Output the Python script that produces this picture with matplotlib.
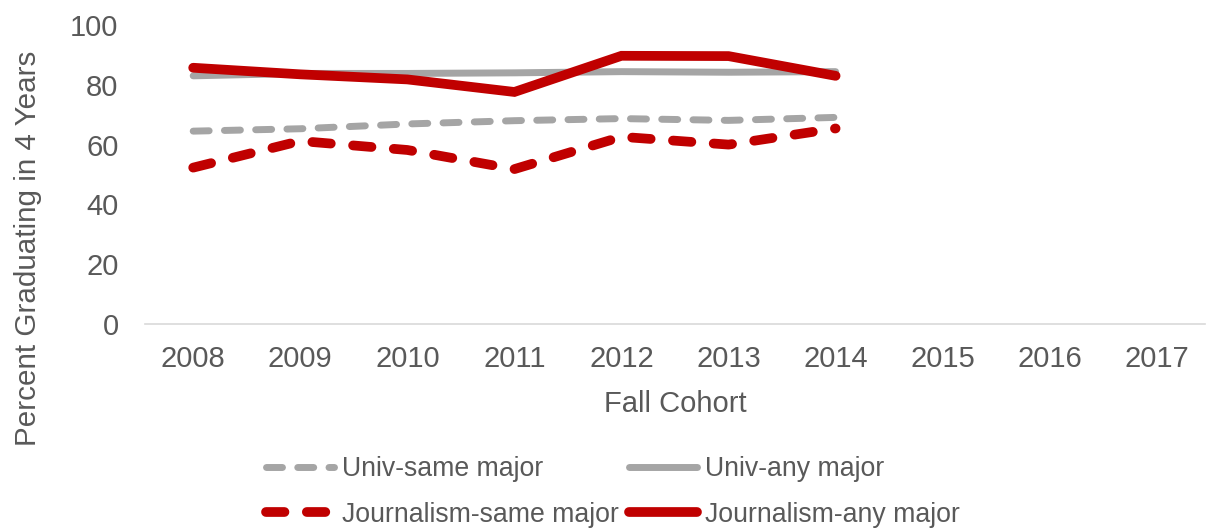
import matplotlib
matplotlib.use("Agg")
import matplotlib.pyplot as plt
import numpy as np

plt.rcParams['font.family'] = ['Liberation Sans', 'DejaVu Sans']

# Data
years = ['2008', '2009', '2010', '2011', '2012', '2013', '2014', '2015', '2016', '2017']
univ_same = [64.5, 65.3, 66.9, 68.0, 68.7, 68.1, 69.1]
univ_any = [83.0, 83.8, 83.8, 84.0, 84.4, 84.2, 84.4]
journ_same = [52.3, 61.2, 58.2, 51.8, 62.6, 60.0, 65.4]
journ_any = [85.7, 83.5, 81.8, 77.6, 89.7, 89.6, 83.0]

red = '#C00000'
gray = '#A5A5A5'
txt = '#595959'

fig = plt.figure(figsize=(12.07, 5.29), dpi=100)
ax = fig.add_axes([145/1207, 1 - 324/529, 1060/1207, 299/529])

x = np.arange(len(years))
n = len(univ_same)

l1, = ax.plot(x[:n], univ_same, color=gray, lw=5.0, ls=(0, (2.3, 2.2)),
              dash_capstyle='round', label='Univ-same major')
l2, = ax.plot(x[:n], univ_any, color=gray, lw=5.0, solid_capstyle='round',
              label='Univ-any major')
l3, = ax.plot(x[:n], journ_same, color=red, lw=7.0, ls=(0, (1.9, 2.3)),
              dash_capstyle='round', label='Journalism-same major')
l4, = ax.plot(x[:n], journ_any, color=red, lw=7.0, solid_capstyle='round',
              solid_joinstyle='miter', label='Journalism-any major')

ax.set_xlim(-0.45, len(years) - 0.55)
ax.set_ylim(0, 100)
ax.set_yticks([0, 20, 40, 60, 80, 100])
ax.set_xticks(x)
ax.set_xticklabels(years)

for s in ['top', 'right', 'left']:
    ax.spines[s].set_visible(False)
ax.spines['bottom'].set_color('#D9D9D9')
ax.spines['bottom'].set_linewidth(1.2)
ax.tick_params(length=0, labelsize=21, colors=txt)
ax.tick_params(axis='x', pad=15)
ax.tick_params(axis='y', pad=19)

ax.set_xlabel('Fall Cohort', fontsize=21, color=txt, labelpad=12)
fig.text(28/1207, 1 - 248/529, 'Percent Graduating in 4 Years', rotation=90,
         fontsize=21.3, color=txt, ha='center', va='center')

# legend fills column-wise, so order handles to get rows Univ / Journalism
order = [l1, l3, l2, l4]
fig.legend(order, [l.get_label() for l in order],
           loc='center', bbox_to_anchor=(613/1207, 1 - 492/529), ncol=2,
           frameon=False, fontsize=19.2, labelcolor=txt, handlelength=2.55,
           handletextpad=0.3, columnspacing=0.4, labelspacing=0.72,
           borderpad=0)

fig.savefig('out.png', dpi=100)
